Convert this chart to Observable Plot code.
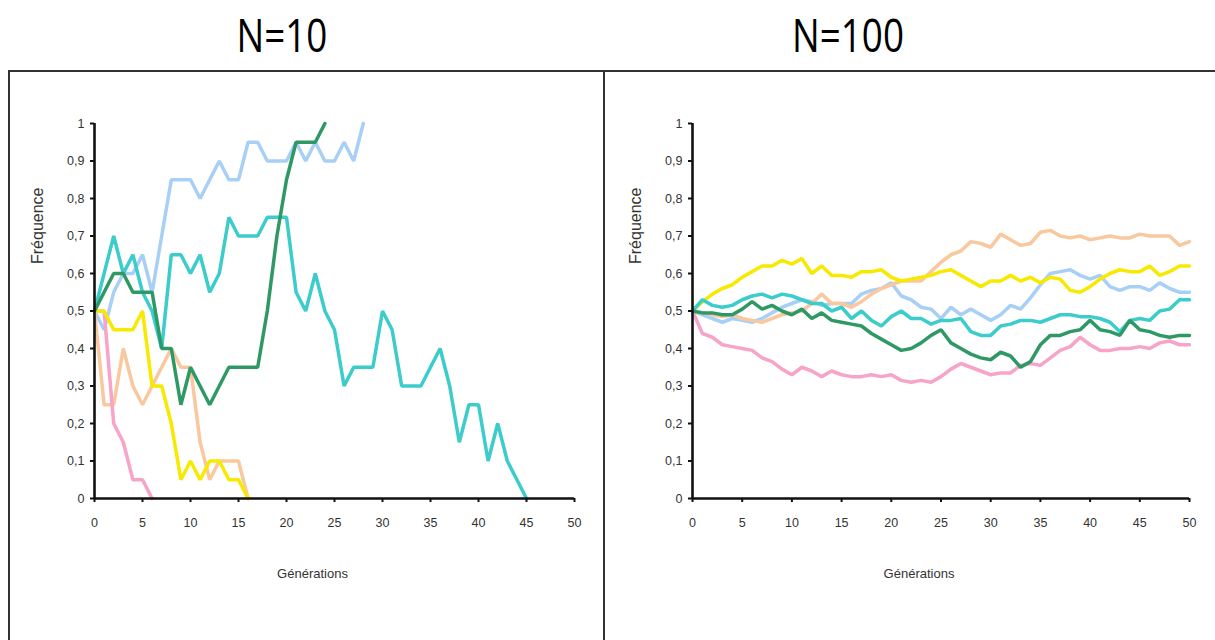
<!DOCTYPE html>
<html>
<head>
<meta charset="utf-8">
<script src="https://cdn.jsdelivr.net/npm/d3@7"></script>
<script src="https://cdn.jsdelivr.net/npm/@observablehq/plot@0.6"></script>
<style>
  body { margin: 0; background: #fff; }
  #page { position: relative; width: 1215px; height: 640px; overflow: hidden; background: #fff; }
  .title { position: absolute; top: 4px; width: 300px; text-align: center; font-family: "Open Sans", sans-serif; font-size: 46px; line-height: 60px; color: #000; transform: scaleX(0.8); }
  .hline { position: absolute; background: #333; }
  .plot { position: absolute; top: 71px; }
</style>
</head>
<body>
<div id="page">
  <div class="title" style="left:132px">N=10</div>
  <div class="title" style="left:698px">N=100</div>
  <div class="hline" style="left:8px; top:70px; width:1207px; height:2px"></div>
  <div class="hline" style="left:8px; top:70px; width:2px; height:570px"></div>
  <div class="hline" style="left:603px; top:70px; width:2px; height:570px"></div>
  <div class="plot" id="left" style="left:8px"></div>
  <div class="plot" id="right" style="left:604px"></div>
</div>
<script>
// ---- data ----
const seriesNames = ["bleu clair", "pêche", "rose", "jaune", "turquoise", "vert"];
const seriesColors = ["#a8cff6", "#f9c89e", "#f7a4c8", "#f7ea00", "#3ccccc", "#2f9966"];
const xTicks = [0, 5, 10, 15, 20, 25, 30, 35, 40, 45, 50];
const yTicks = [0, 0.1, 0.2, 0.3, 0.4, 0.5, 0.6, 0.7, 0.8, 0.9, 1];
const panelTitles = ["N=10", "N=100"];

// N=10 (generations 0..n)
const lightblue10 = [0.5,0.45,0.55,0.6,0.6,0.65,0.55,0.7,0.85,0.85,0.85,0.8,0.85,0.9,0.85,0.85,0.95,0.95,0.9,0.9,0.9,0.95,0.9,0.95,0.9,0.9,0.95,0.9,1.0];
const peach10 = [0.5,0.25,0.25,0.4,0.3,0.25,0.3,0.35,0.4,0.35,0.35,0.15,0.05,0.1,0.1,0.1,0];
const pink10 = [0.5,0.5,0.2,0.15,0.05,0.05,0];
const yellow10 = [0.5,0.5,0.45,0.45,0.45,0.5,0.3,0.3,0.2,0.05,0.1,0.05,0.1,0.1,0.05,0.05,0];
const teal10 = [0.5,0.6,0.7,0.6,0.65,0.55,0.5,0.4,0.65,0.65,0.6,0.65,0.55,0.6,0.75,0.7,0.7,0.7,0.75,0.75,0.75,0.55,0.5,0.6,0.5,0.45,0.3,0.35,0.35,0.35,0.5,0.45,0.3,0.3,0.3,0.35,0.4,0.3,0.15,0.25,0.25,0.1,0.2,0.1,0.05,0];
const green10 = [0.5,0.55,0.6,0.6,0.55,0.55,0.55,0.4,0.4,0.25,0.35,0.3,0.25,0.3,0.35,0.35,0.35,0.35,0.5,0.7,0.85,0.95,0.95,0.95,1.0];

// N=100 (generations 0..50)
const lightblue100 = [0.5,0.49,0.48,0.47,0.48,0.475,0.47,0.48,0.495,0.51,0.52,0.53,0.525,0.515,0.52,0.52,0.52,0.545,0.555,0.56,0.575,0.54,0.53,0.51,0.505,0.48,0.51,0.49,0.505,0.49,0.475,0.49,0.515,0.505,0.535,0.57,0.6,0.605,0.61,0.595,0.585,0.595,0.565,0.555,0.565,0.565,0.555,0.575,0.56,0.55,0.55];
const peach100 = [0.5,0.495,0.49,0.485,0.49,0.48,0.475,0.47,0.48,0.49,0.495,0.5,0.52,0.545,0.52,0.52,0.51,0.525,0.545,0.56,0.57,0.58,0.58,0.58,0.605,0.63,0.65,0.66,0.685,0.68,0.67,0.705,0.69,0.675,0.68,0.71,0.715,0.7,0.695,0.7,0.69,0.695,0.7,0.695,0.695,0.705,0.7,0.7,0.7,0.675,0.685];
const pink100 = [0.5,0.44,0.43,0.41,0.405,0.4,0.395,0.375,0.365,0.345,0.33,0.35,0.34,0.325,0.34,0.33,0.325,0.325,0.33,0.325,0.33,0.315,0.31,0.315,0.31,0.325,0.345,0.36,0.35,0.34,0.33,0.335,0.335,0.355,0.36,0.355,0.375,0.395,0.405,0.43,0.41,0.395,0.395,0.4,0.4,0.405,0.4,0.415,0.42,0.41,0.41];
const yellow100 = [0.5,0.525,0.545,0.56,0.57,0.59,0.605,0.62,0.62,0.635,0.625,0.64,0.6,0.62,0.595,0.595,0.59,0.605,0.605,0.61,0.59,0.58,0.585,0.59,0.595,0.605,0.61,0.595,0.58,0.565,0.58,0.58,0.595,0.58,0.59,0.575,0.59,0.585,0.555,0.55,0.565,0.585,0.6,0.61,0.605,0.605,0.62,0.595,0.605,0.62,0.62];
const teal100 = [0.5,0.53,0.515,0.51,0.515,0.53,0.54,0.545,0.535,0.545,0.54,0.53,0.52,0.52,0.5,0.51,0.48,0.5,0.475,0.46,0.485,0.5,0.48,0.48,0.465,0.475,0.475,0.48,0.445,0.435,0.435,0.46,0.465,0.475,0.475,0.47,0.48,0.49,0.49,0.485,0.485,0.48,0.47,0.445,0.475,0.48,0.475,0.5,0.505,0.53,0.53];
const green100 = [0.5,0.495,0.495,0.49,0.49,0.505,0.525,0.505,0.515,0.5,0.49,0.505,0.48,0.495,0.475,0.47,0.465,0.46,0.44,0.425,0.41,0.395,0.4,0.415,0.435,0.45,0.415,0.4,0.385,0.375,0.37,0.39,0.38,0.35,0.365,0.41,0.435,0.435,0.445,0.45,0.475,0.45,0.445,0.435,0.475,0.45,0.445,0.435,0.43,0.435,0.435];

// ---- build tidy tables ----
function tidy(arrays) {
  const out = [];
  arrays.forEach((arr, k) => arr.forEach((v, g) => out.push({ g, v, s: seriesNames[k] })));
  return out;
}
const data10 = tidy([lightblue10, peach10, pink10, yellow10, teal10, green10]);
const data100 = tidy([lightblue100, peach100, pink100, yellow100, teal100, green100]);

const FONT = "'Liberation Sans', Arial, sans-serif";

function panel(data, width, marginLeft, marginRight) {
  return Plot.plot({
    width, height: 569,
    marginLeft, marginRight, marginTop: 52, marginBottom: 142,
    x: { domain: [0, 50], axis: null },
    y: { domain: [0, 1], axis: null },
    color: { domain: seriesNames, range: seriesColors },
    style: { fontFamily: FONT, fontSize: "12.5px", color: "#333", background: "transparent" },
    marks: [
      Plot.line(data, { x: "g", y: "v", z: "s", stroke: "s", strokeWidth: 3.5, strokeLinejoin: "miter" }),
      Plot.ruleY([0], { x1: 0, x2: 50, stroke: "#111", strokeWidth: 2.6 }),
      Plot.ruleX([0], { y1: 0, y2: 1, stroke: "#111", strokeWidth: 2.6 }),
      Plot.axisX({ ticks: xTicks, tickSize: 4, tickPadding: 16, stroke: "#111", strokeWidth: 2, label: null, tickFormat: d => String(d), fill: "#333" }),
      Plot.axisY({ ticks: yTicks, tickSize: 4, tickPadding: 6, stroke: "#111", strokeWidth: 2, label: null, tickFormat: d => String(d).replace(".", ","), fill: "#333" }),
      Plot.text(["Générations"], { frameAnchor: "bottom", dy: 79, dx: -22, fontSize: 13, fill: "#333" }),
      Plot.text(["Fréquence"], { frameAnchor: "left", dx: -57, dy: -47, rotate: -90, fontSize: 16, fill: "#333" })
    ]
  });
}

document.getElementById("left").appendChild(panel(data10, 595, 86, 29));
document.getElementById("right").appendChild(panel(data100, 611, 88, 26));
</script>
</body>
</html>
